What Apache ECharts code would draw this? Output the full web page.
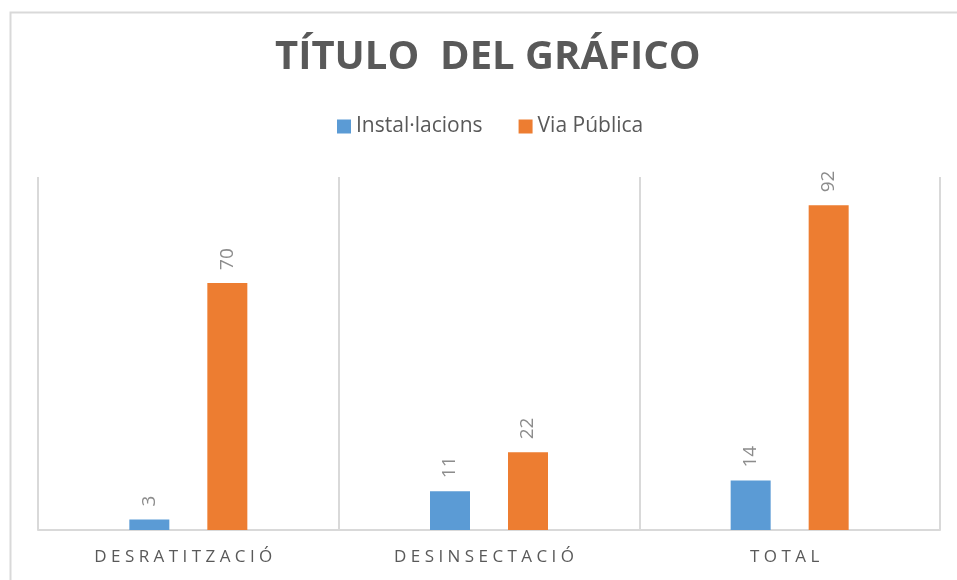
<!DOCTYPE html>
<html>
<head>
<meta charset="utf-8">
<script src="https://cdn.jsdelivr.net/npm/echarts@6/dist/echarts.min.js"></script>
<style>
html,body{margin:0;padding:0;background:#fff;}
#chart{width:957px;height:580px;}
</style>
</head>
<body>
<div id="chart"></div>
<script>
const titleText = 'TÍTULO  DEL GRÁFICO';
const categories = ['DESRATITZACIÓ', 'DESINSECTACIÓ', 'TOTAL'];
const seriesNames = ['Instal·lacions', 'Via Pública'];
const instalValues = [3, 11, 14];
const viaValues = [70, 22, 92];

function spaced(s, sp) { return Array.from(s).join(sp); }

const chart = echarts.init(document.getElementById('chart'), null, {renderer: 'canvas'});
const labelStyle = {
  show: true, position: 'top', rotate: 90, distance: 13,
  align: 'left', verticalAlign: 'middle',
  color: '#8c8c8c', fontSize: 19, fontFamily: 'Open Sans'
};
chart.setOption({
  animation: false,
  backgroundColor: '#fff',
  graphic: [{
    type: 'rect', left: 8, top: 10,
    shape: {x: 0, y: 0, width: 1000, height: 700},
    style: {fill: 'none', stroke: '#d9d9d9', lineWidth: 2}, silent: true
  }],
  title: {
    text: titleText,
    left: 270, top: 33, padding: 5,
    textStyle: {fontFamily: 'Open Sans', fontWeight: 'bold', fontSize: 40, color: '#595959'}
  },
  legend: {
    data: seriesNames, top: 111, left: 332, padding: 5,
    itemWidth: 14, itemHeight: 14, itemGap: 36, icon: 'rect',
    textStyle: {fontFamily: 'Open Sans', fontSize: 21, color: '#595959'}
  },
  grid: {left: 38, right: 17, top: 177, bottom: 50, containLabel: false},
  xAxis: {
    type: 'category', data: categories,
    axisLine: {show: true, lineStyle: {color: '#d9d9d9', width: 2}},
    axisTick: {show: false},
    splitLine: {show: true, interval: 0, lineStyle: {color: '#d9d9d9', width: 2}},
    axisLabel: {
      margin: 19, color: '#595959', fontSize: 17, fontFamily: 'Open Sans',
      padding: [0, 10, 0, 0],
      formatter: v => spaced(v, ' ')
    }
  },
  yAxis: {type: 'value', min: 0, max: 100, interval: 20, show: false},
  series: [
    {name: seriesNames[0], type: 'bar', data: instalValues, barWidth: 40, barGap: '95%',
     itemStyle: {color: '#5b9bd5'}, label: labelStyle},
    {name: seriesNames[1], type: 'bar', data: viaValues, barWidth: 40,
     itemStyle: {color: '#ed7d31'}, label: labelStyle}
  ]
});
</script>
</body>
</html>
